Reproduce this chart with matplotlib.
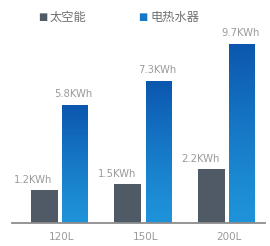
import numpy as np
import matplotlib.pyplot as plt
from matplotlib.colors import LinearSegmentedColormap

plt.rcParams['font.family'] = ['Noto Sans CJK SC', 'DejaVu Sans']

categories = ['120L', '150L', '200L']
solar_kwh = [1.2, 1.5, 2.2]      # 太空能
heater_kwh = [5.8, 7.3, 9.7]     # 电热水器
series_names = ['太空能', '电热水器']

gray = '#505a66'
txt = '#9a9a9a'
blue_cmap = LinearSegmentedColormap.from_list('bl', ['#1f93d9', '#0b56ae'])

fig = plt.figure(figsize=(2.7, 2.46), dpi=100)
ax = fig.add_axes([12 / 270, 23 / 246, 253 / 270, 193 / 246])

# the picture's value axis is compressed, a power scale gets close
p = 0.81
ax.set_yscale('function', functions=(lambda v: np.clip(v, 0, None) ** p,
                                     lambda u: np.clip(u, 0, None) ** (1 / p)))

x = np.arange(len(categories))
w = 0.323
off = 0.186

ax.bar(x - off, solar_kwh, w, color=gray, zorder=2)
blue_bars = ax.bar(x + off, heater_kwh, w, color='none', zorder=2)

grad = np.linspace(0, 1, 256).reshape(-1, 1)
for b in blue_bars:
    x0 = b.get_x()
    im = ax.imshow(grad, cmap=blue_cmap, aspect='auto', origin='lower',
                   extent=(x0, x0 + b.get_width(), 0, b.get_height()), zorder=2)
    im.set_clip_path(b)

# value labels (the gray ones sit a bit to the left in the original)
for xi, v in zip(x - off, solar_kwh):
    ax.annotate(f'{v}KWh', (xi, v), xytext=(-8, 3.5), textcoords='offset points',
                ha='center', va='bottom', fontsize=7.2, color=txt, family='DejaVu Sans')
for xi, v in zip(x + off, heater_kwh):
    ax.annotate(f'{v}KWh', (xi, v), xytext=(-1.5, 4), textcoords='offset points',
                ha='center', va='bottom', fontsize=7.2, color=txt, family='DejaVu Sans')

ax.set_xlim(-0.575, 2.455)
ax.set_ylim(0, 10.64)
ax.set_xticks(x + 0.02)
ax.set_xticklabels(categories, fontsize=7.5, color=txt, family='DejaVu Sans')
ax.tick_params(axis='x', length=0, pad=6.5)
ax.set_yticks([])
for s in ['top', 'right', 'left']:
    ax.spines[s].set_visible(False)
ax.spines['bottom'].set_color('#8c8c8c')
ax.spines['bottom'].set_linewidth(1.3)

# legend
fig.text(38 / 270, 1 - 17 / 246, '■', color=gray, fontsize=7, va='center', ha='left',
         family='DejaVu Sans')
fig.text(50 / 270, 1 - 17 / 246, series_names[0], color='#707070', fontsize=8.8,
         va='center', ha='left')
fig.text(138 / 270, 1 - 17 / 246, '■', color='#1677c8', fontsize=7, va='center', ha='left',
         family='DejaVu Sans')
fig.text(150 / 270, 1 - 17 / 246, series_names[1], color='#707070', fontsize=8.8,
         va='center', ha='left')

fig.savefig('out.png', dpi=100)
